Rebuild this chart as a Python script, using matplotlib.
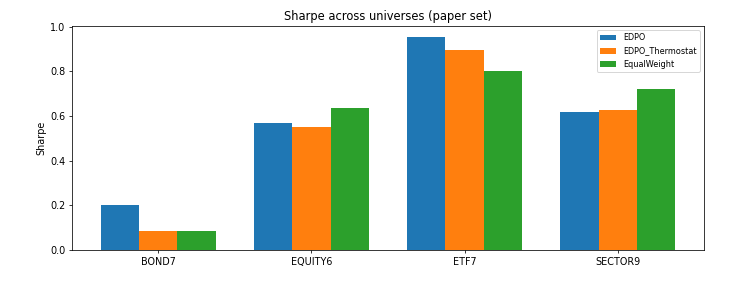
import numpy as np
import matplotlib
matplotlib.use("Agg")
import matplotlib.pyplot as plt

universes = ["BOND7", "EQUITY6", "ETF7", "SECTOR9"]
methods = ["EDPO", "EDPO_Thermostat", "EqualWeight"]
edpo = [0.204, 0.570, 0.955, 0.619]
edpo_thermostat = [0.086, 0.552, 0.897, 0.629]
equal_weight = [0.086, 0.638, 0.800, 0.720]

series = [edpo, edpo_thermostat, equal_weight]
x = np.arange(len(universes))
width = 0.25

DPI = 69
fig = plt.figure(figsize=(744 / DPI, 281 / DPI), dpi=DPI)
ax = fig.add_axes([0.097, 0.110, 0.849, 0.797])

for i, (name, vals) in enumerate(zip(methods, series)):
    ax.bar(x + (i - 1) * width, vals, width, label=name)

ax.set_xticks(x)
ax.set_xticklabels(universes)
ax.set_ylabel("Sharpe")
ax.set_title("Sharpe across universes (paper set)")
ax.legend(fontsize=8.5)

fig.savefig("out.png", dpi=DPI)
